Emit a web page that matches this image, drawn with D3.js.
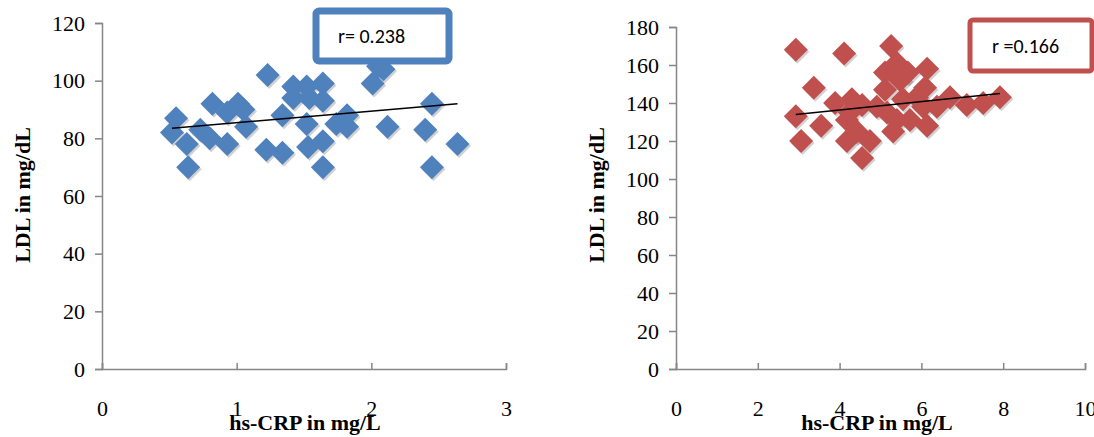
<!DOCTYPE html>
<html><head><meta charset="utf-8">
<script src="https://cdn.jsdelivr.net/npm/d3@7"></script>
<style>body{margin:0;background:#fff}</style>
</head><body><svg id="graph" width="1094" height="437"></svg>
<script>
const leftX = [.55,.52,.63,.64,.73,.80,.93,.82,.93,1.01,1.05,1.07,1.23,1.34,1.22,1.34,1.42,1.42,1.52,1.54,1.64,1.64,1.52,1.53,1.64,1.64,1.74,1.82,1.82,2.01,2.05,2.09,2.12,2.40,2.45,2.45,2.64];
const leftY = [87,82,78,70,83,80,78,92,89,92,90,84,102,88,76,75,98,94,98,94,99,93,85,77,79,70,85,88,84,99,105,104,84,83,92,70,78];
const rightX = [2.93,4.11,5.26,3.37,2.93,3.06,3.55,3.89,4.30,4.55,4.18,4.18,4.42,4.74,4.55,4.25,5.11,5.11,5.40,5.67,5.48,6.14,6.09,5.89,5.16,5.40,5.31,5.72,6.14,6.04,6.38,6.70,7.11,7.51,7.92,5.55,4.91];
const rightY = [168,166,170,148,133,120,128,140,142,139,131,120,125,120,111,135,147,156,161,156,152,158,148,143,135,131,125,131,128,138,138,143,139,140,143,142,138];
const leftTrend = [[0.52, 83.5], [2.64, 92]];
const rightTrend = [[2.93, 134], [7.92, 145]];

const svg = d3.select('#graph');
const font = '"Liberation Serif", "Times New Roman", serif';

const panel = (o) => {
  const x = d3.scaleLinear().domain(o.xd).range([o.x0, o.x1]);
  const y = d3.scaleLinear().domain(o.yd).range([369, o.yTop]);
  const g = svg.append('g');
  g.append('g').attr('transform', `translate(${o.x0},0)`)
    .call(d3.axisLeft(y).ticks(o.yd[1] / 20).tickSize(7).tickPadding(10))
    .call(a => { a.select('.domain').attr('stroke', '#868686').attr('stroke-width', 1.5);
      a.selectAll('line').attr('stroke', '#868686').attr('stroke-width', 1.5);
      a.selectAll('text').attr('font-family', font).attr('font-size', 22).attr('fill', '#000'); });
  g.append('g').attr('transform', `translate(0,369)`)
    .call(d3.axisBottom(x).ticks(o.xTicks).tickSize(-6).tickSizeOuter(-6).tickPadding(31))
    .call(a => { a.select('.domain').attr('stroke', '#868686').attr('stroke-width', 1.5);
      a.selectAll('line').attr('stroke', '#868686').attr('stroke-width', 1.5);
      a.selectAll('text').attr('font-family', font).attr('font-size', 22).attr('fill', '#000'); });
  const pts = o.xs.map((v, i) => [v, o.ys[i]]);
  g.selectAll('.sh').data(pts).join('path')
    .attr('d', 'M0,-12L12,0L0,12L-12,0Z')
    .attr('transform', d => `translate(${x(d[0]) + 1.5},${y(d[1]) + 2})`)
    .attr('fill', '#000').attr('opacity', 0.18);
  g.selectAll('.pt').data(pts).join('path')
    .attr('d', 'M0,-12L12,0L0,12L-12,0Z')
    .attr('transform', d => `translate(${x(d[0])},${y(d[1])})`)
    .attr('fill', o.color);
  g.append('line')
    .attr('x1', x(o.trend[0][0])).attr('y1', y(o.trend[0][1]))
    .attr('x2', x(o.trend[1][0])).attr('y2', y(o.trend[1][1]))
    .attr('stroke', '#000').attr('stroke-width', 1.5);
  g.append('text').attr('transform', `translate(${o.x0 - 72},195) rotate(-90)`)
    .attr('text-anchor', 'middle').attr('font-family', font).attr('font-weight', 'bold')
    .attr('font-size', 22).text('LDL in mg/dL');
  g.append('text').attr('x', o.xl).attr('y', 430)
    .attr('text-anchor', 'middle').attr('font-family', font).attr('font-weight', 'bold')
    .attr('font-size', 22).text('hs-CRP in mg/L');
  const b = o.box;
  g.append('rect').attr('x', b[0]).attr('y', b[1]).attr('width', b[2]).attr('height', b[3])
    .attr('rx', 3).attr('fill', '#fff').attr('stroke', o.color).attr('stroke-width', b[4]);
  g.append('text').attr('x', b[0] + 22).attr('y', b[1] + b[3] / 2 + 7)
    .attr('font-family', 'Calibri, Carlito, "Liberation Sans", sans-serif').attr('font-size', 20)
    .text(o.label);
};

panel({xd: [0, 3], xTicks: 3, x0: 102, x1: 506, yd: [0, 120], yTop: 23, xs: leftX, ys: leftY,
  trend: leftTrend, color: '#4F81BD', xl: 305, box: [316, 11, 133, 50, 7], label: 'r= 0.238'});
panel({xd: [0, 10], xTicks: 5, x0: 676, x1: 1085, yd: [0, 180], yTop: 27, xs: rightX, ys: rightY,
  trend: rightTrend, color: '#C0504D', xl: 877, box: [970, 20, 122, 51, 5], label: 'r =0.166'});
</script></body></html>
